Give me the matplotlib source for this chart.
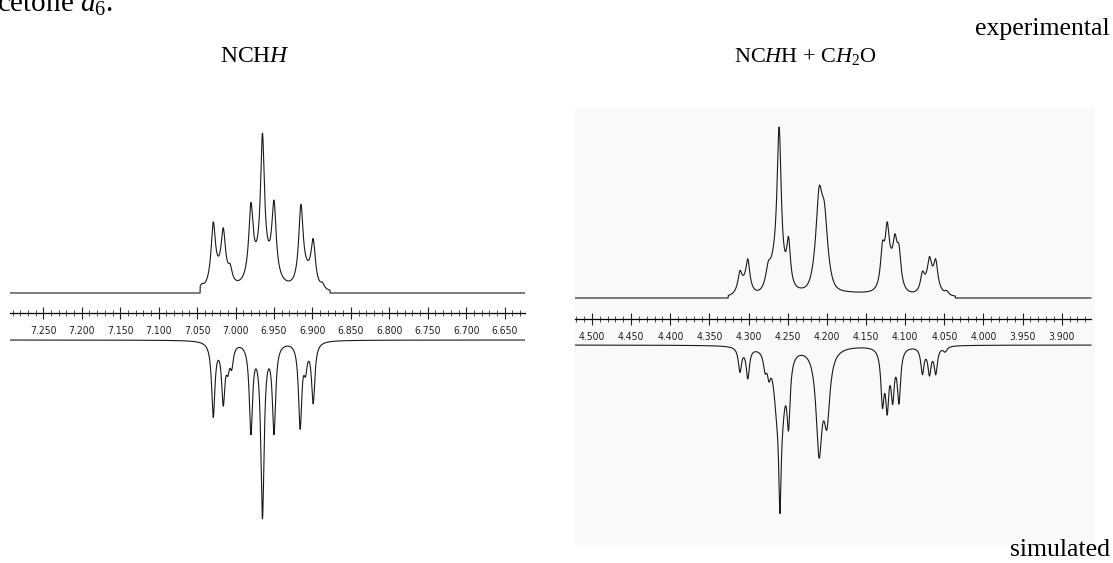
import matplotlib
matplotlib.use('Agg')
import matplotlib.pyplot as plt
import numpy as np

plt.rcParams['mathtext.fontset'] = 'custom'
plt.rcParams['mathtext.rm'] = 'Liberation Serif'
plt.rcParams['mathtext.it'] = 'Liberation Serif:italic'

W, H = 1113, 563

# ---------------- left panel: NCHH ----------------
left_major = [7.250, 7.200, 7.150, 7.100, 7.050, 7.000, 6.950,
              6.900, 6.850, 6.800, 6.750, 6.700, 6.650]
left_labels = ['7.250', '7.200', '7.150', '7.100', '7.050', '7.000', '6.950',
               '6.900', '6.850', '6.800', '6.750', '6.700', '6.650']
left_range = (7.2934, 6.6235)

# experimental lines: position (ppm), amplitude, half width (ppm)
left_exp_pos = [7.044, 7.029, 7.016, 7.007, 6.980, 6.965, 6.950, 6.915, 6.899, 6.887]
left_exp_amp = [4, 58, 46, 12, 70, 128, 72, 74, 42, 5]
left_exp_hw = [0.003, 0.0034, 0.0034, 0.003, 0.0034, 0.003, 0.0034, 0.0034, 0.0034, 0.003]
# broad humps under the multiplets: centre, height, sigma
left_hump_pos = [7.020, 6.965, 6.908, 6.962]
left_hump_amp = [12, 18, 13, 6]
left_hump_sig = [0.010, 0.012, 0.008, 0.035]
left_exp_window = (7.046, 6.877)

# simulated lines
left_sim_pos = [7.029, 7.016, 7.010, 7.005, 6.980, 6.965, 6.950, 6.916, 6.909, 6.899]
left_sim_amp = [74, 58, 20, 20, 88, 173, 88, 84, 22, 60]
left_sim_hw = [0.0026] * 10

# ---------------- right panel: NCHH + CH2O ----------------
right_major = [4.500, 4.450, 4.400, 4.350, 4.300, 4.250, 4.200,
               4.150, 4.100, 4.050, 4.000, 3.950, 3.900]
right_labels = ['4.500', '4.450', '4.400', '4.350', '4.300', '4.250', '4.200',
                '4.150', '4.100', '4.050', '4.000', '3.950', '3.900']
right_range = (4.5217, 3.8576)
right_line_end = 3.8627

right_exp_pos = [4.311, 4.301, 4.275, 4.261, 4.249, 4.210, 4.203, 4.129, 4.123,
                 4.113, 4.108, 4.078, 4.069, 4.061, 4.047]
right_exp_amp = [16, 28, 14, 146, 45, 60, 40, 34, 44, 30, 30, 16, 22, 24, 4]
right_exp_hw = [0.003, 0.003, 0.0035, 0.0032, 0.003, 0.0045, 0.0045, 0.003,
                0.003, 0.003, 0.003, 0.003, 0.003, 0.003, 0.003]
right_hump_pos = [4.306, 4.266, 4.207, 4.118, 4.067, 4.18]
right_hump_amp = [9, 22, 38, 22, 13, 4]
right_hump_sig = [0.007, 0.008, 0.007, 0.008, 0.008, 0.08]
right_exp_window = (4.326, 4.036)

right_sim_pos = [4.311, 4.301, 4.279, 4.274, 4.264, 4.260, 4.257, 4.249, 4.210, 4.200,
                 4.129, 4.123, 4.116, 4.108, 4.078, 4.069, 4.061, 4.049]
right_sim_amp = [24, 30, 16, 18, 44, 104, 44, 64, 100, 66,
                 52, 55, 46, 52, 26, 26, 26, 5]
right_sim_hw = [0.0025, 0.0025, 0.0025, 0.0025, 0.005, 0.0018, 0.005, 0.0025, 0.0046, 0.0046,
                0.0025, 0.0025, 0.0025, 0.0025, 0.0025, 0.0025, 0.0025, 0.003]


def lines(x, pos, amp, hw):
    y = np.zeros_like(x)
    for p, a, w in zip(pos, amp, hw):
        y += a / (1 + ((x - p) / w) ** 2)
    return y


def humps(x, pos, amp, sig):
    y = np.zeros_like(x)
    for p, a, s in zip(pos, amp, sig):
        y += a * np.exp(-0.5 * ((x - p) / s) ** 2)
    return y


def px_box(x0, x1, y0, y1):
    return [x0 / W, 1 - y1 / H, (x1 - x0) / W, (y1 - y0) / H]


def draw_panel(ax, xr, line_end, base, ruler, lower, top, bottom,
               exp, sim, majors, labels):
    # y data in pixels above the experimental baseline
    ax.set_xlim(*xr)
    ax.set_ylim(base - bottom, base - top)
    x = np.linspace(xr[0], line_end, 4000)
    ax.plot(x, exp(x), color='#1a1a1a', lw=0.8)
    ax.plot(x, (base - lower) - sim(x), color='#1a1a1a', lw=0.8)
    for s in ['top', 'left', 'right']:
        ax.spines[s].set_visible(False)
    ax.spines['bottom'].set_position(('data', base - ruler))
    ax.spines['bottom'].set_bounds(xr[0], line_end)
    ax.spines['bottom'].set_linewidth(0.9)
    ax.set_yticks([])
    ax.set_xticks(majors)
    ax.set_xticklabels(labels,
                       family=['Liberation Sans Narrow', 'DejaVu Sans Condensed',
                               'DejaVu Sans'],
                       stretch='condensed', fontsize=7.5, color='#222222')
    minors = np.round(np.arange(round(xr[0], 2), line_end, -0.01), 3)
    ax.set_xticks(minors, minor=True)
    ax.tick_params(axis='x', which='major', direction='inout', length=8,
                   width=0.8, pad=5, color='#222222')
    ax.tick_params(axis='x', which='minor', direction='inout', length=4,
                   width=0.6, color='#333333')


fig = plt.figure(figsize=(W / 100, H / 100), dpi=100)

axl = fig.add_axes(px_box(10, 525, 100, 545))
axl.set_facecolor('none')
draw_panel(
    axl, left_range, left_range[1], 293, 313, 340, 100, 545,
    lambda x: np.where((x <= left_exp_window[0]) & (x >= left_exp_window[1]),
                       lines(x, left_exp_pos, left_exp_amp, left_exp_hw)
                       + humps(x, left_hump_pos, left_hump_amp, left_hump_sig), 0),
    lambda x: lines(x, left_sim_pos, left_sim_amp, left_sim_hw),
    left_major, left_labels)

axr = fig.add_axes(px_box(575, 1095, 108, 545))
axr.set_facecolor('#f9f9f9')
draw_panel(
    axr, right_range, right_line_end, 298, 319, 345, 108, 545,
    lambda x: np.where((x <= right_exp_window[0]) & (x >= right_exp_window[1]),
                       lines(x, right_exp_pos, right_exp_amp, right_exp_hw)
                       + humps(x, right_hump_pos, right_hump_amp, right_hump_sig), 0),
    lambda x: lines(x, right_sim_pos, right_sim_amp, right_sim_hw),
    right_major, right_labels)

serif = 'Liberation Serif'
fig.text(-3 / W, 1 - 12 / H, r'cetone $d_6$.', family=serif, fontsize=21,
         ha='left', va='baseline')
fig.text(255 / W, 1 - 62 / H, r'NCH$H$', family=serif, fontsize=17,
         ha='center', va='baseline')
fig.text(806 / W, 1 - 62 / H, r'NC$H$H + C$H_2$O', family=serif, fontsize=16,
         ha='center', va='baseline')
fig.text(1110 / W, 1 - 35 / H, 'experimental', family=serif, fontsize=18.5,
         ha='right', va='baseline')
fig.text(1110 / W, 1 - 556 / H, 'simulated', family=serif, fontsize=18.5,
         ha='right', va='baseline')

fig.savefig('out.png', dpi=100)
